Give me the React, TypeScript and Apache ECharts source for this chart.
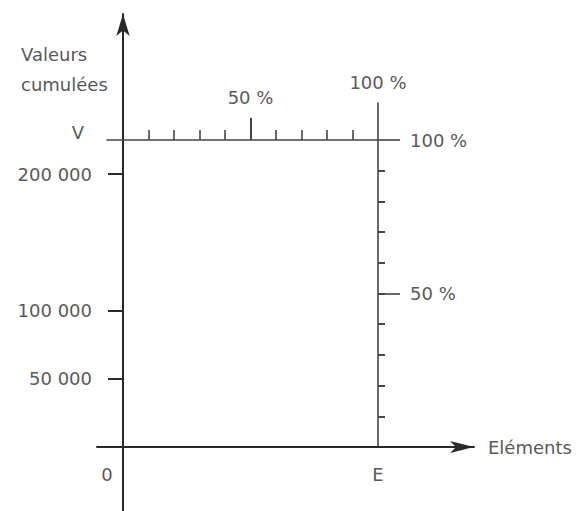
import React, { useEffect, useRef } from "react";
import * as echarts from "echarts";

// ---- Data ----
const leftTickValues = [50000, 100000, 200000];
const leftTickLabels = ["50 000", "100 000", "200 000"];
const totalValue = 225000; // V (estimated)
const totalLabel = "V";
const pctMinorTicks = [10, 20, 30, 40, 50, 60, 70, 80, 90];
const pctMajorTicksTop = [50];
const pctMajorTicksRight = [50, 100];
const bottomLabelValues = [0, 100];
const bottomLabels = ["0", "E"];
const xAxisName = "Eléments";
const yAxisName = "Valeurs\ncumulées";
const topEndName = "100 %";

// ---- Layout (pixels) ----
const W = 576;
const H = 511;
const X0 = 123; // origin x
const XE = 378; // E x
const YB = 447; // baseline y
const YV = 140; // V / 100 % y
const AX_LEFT = 97;
const AX_RIGHT = 474;
const AX_TOP = 14;
const AX_BOTTOM = 511;
const TOP_LINE_LEFT = 107;
const RIGHT_LINE_TOP = 103;

const pxX = (XE - X0) / 100; // px per % of elements
const pxY = (YB - YV) / 100; // px per % of values
const pxV = (YB - YV) / totalValue; // px per value unit

const FONT = "DejaVu Sans";
const TXT = "#5a5a5a";
const DARK = "#2a2a2a";
const MID = "#444";

const pctFmt = (v: number) => `${v} %`;

export default function App() {
  const ref = useRef<HTMLDivElement>(null);
  useEffect(() => {
    if (!ref.current) return;
    const chart = echarts.init(ref.current, undefined, { renderer: "svg" });
    const textStyle = { fontFamily: FONT, fontSize: 18, color: TXT };
    const gridBase = { outerBoundsMode: "none", containLabel: false };
    chart.setOption({
      animation: false,
      backgroundColor: "#ffffff",
      title: {
        text: yAxisName,
        left: 16,
        top: 34,
        textStyle: { ...textStyle, fontWeight: "normal", lineHeight: 30 },
      },
      grid: [
        { ...gridBase, left: AX_LEFT, top: AX_TOP, width: AX_RIGHT - AX_LEFT, height: AX_BOTTOM - AX_TOP },
        { ...gridBase, left: TOP_LINE_LEFT, top: YV, width: XE - TOP_LINE_LEFT, height: YB - YV },
        { ...gridBase, left: X0, top: RIGHT_LINE_TOP, width: XE - X0, height: YB - RIGHT_LINE_TOP },
      ],
      xAxis: [
        {
          gridIndex: 0,
          type: "value",
          min: (AX_LEFT - X0) / pxX,
          max: (AX_RIGHT - X0) / pxX,
          splitLine: { show: false },
          axisLine: {
            onZero: true,
            onZeroAxisIndex: 0,
            symbol: ["none", "arrow"],
            symbolSize: [9, 24],
            lineStyle: { color: DARK, width: 2 },
          },
          axisTick: { show: false },
          axisLabel: { show: false },
          name: xAxisName,
          nameLocation: "end",
          nameGap: 14,
          nameTextStyle: { ...textStyle, verticalAlign: "middle" },
        },
        {
          gridIndex: 1,
          type: "value",
          position: "top",
          min: (TOP_LINE_LEFT - X0) / pxX,
          max: 100,
          splitLine: { show: false },
          axisLine: { onZero: false, lineStyle: { color: MID, width: 1.6 } },
          axisTick: { customValues: pctMinorTicks, length: 10, lineStyle: { color: MID, width: 1.6 } },
          axisLabel: { show: false },
        },
        {
          gridIndex: 1,
          type: "value",
          position: "top",
          min: (TOP_LINE_LEFT - X0) / pxX,
          max: 100,
          splitLine: { show: false },
          axisLine: { show: false, onZero: false },
          axisTick: { customValues: pctMajorTicksTop, length: 22, lineStyle: { color: MID, width: 2 } },
          axisLabel: { customValues: pctMajorTicksTop, margin: 34, formatter: pctFmt, ...textStyle },
        },
        {
          gridIndex: 2,
          type: "value",
          position: "bottom",
          min: 0,
          max: 100,
          splitLine: { show: false },
          axisLine: { show: false, onZero: false },
          axisTick: { show: false },
          axisLabel: {
            customValues: bottomLabelValues,
            margin: 18,
            ...textStyle,
            formatter: (v: number) => {
              const i = bottomLabelValues.indexOf(v);
              const t = i >= 0 ? bottomLabels[i] : "";
              return v === 0 ? `{o|${t}}` : t;
            },
            rich: { o: { ...textStyle, padding: [0, 32, 0, 0] } },
          },
        },
      ],
      yAxis: [
        {
          gridIndex: 0,
          type: "value",
          min: -(AX_BOTTOM - YB) / pxV,
          max: (YB - AX_TOP) / pxV,
          splitLine: { show: false },
          axisLine: {
            onZero: true,
            onZeroAxisIndex: 0,
            symbol: ["none", "arrow"],
            symbolSize: [10, 22],
            lineStyle: { color: DARK, width: 2 },
          },
          axisTick: { customValues: leftTickValues, length: 15, lineStyle: { color: DARK, width: 2 } },
          axisLabel: {
            customValues: [...leftTickValues, totalValue],
            margin: 5,
            ...textStyle,
            formatter: (v: number) => {
              if (v === totalValue) return `{v|${totalLabel}}`;
              const i = leftTickValues.indexOf(v);
              return i >= 0 ? leftTickLabels[i] : "";
            },
            rich: { v: { ...textStyle, padding: [0, 8, 16, 0] } },
          },
        },
        {
          gridIndex: 1,
          type: "value",
          min: 0,
          max: 100,
          show: false,
        },
        {
          gridIndex: 2,
          type: "value",
          position: "right",
          min: 0,
          max: (YB - RIGHT_LINE_TOP) / pxY,
          splitLine: { show: false },
          axisLine: { onZero: false, lineStyle: { color: MID, width: 1.6 } },
          axisTick: { customValues: pctMinorTicks, length: 7, lineStyle: { color: MID, width: 2 } },
          axisLabel: { show: false },
          name: topEndName,
          nameLocation: "end",
          nameGap: 12,
          nameTextStyle: { ...textStyle, align: "center" },
        },
        {
          gridIndex: 2,
          type: "value",
          position: "right",
          min: 0,
          max: (YB - RIGHT_LINE_TOP) / pxY,
          splitLine: { show: false },
          axisLine: { show: false, onZero: false },
          axisTick: { customValues: pctMajorTicksRight, length: 22, lineStyle: { color: MID, width: 1.6 } },
          axisLabel: { customValues: pctMajorTicksRight, margin: 32, formatter: pctFmt, ...textStyle },
        },
      ],
      series: [
        { type: "line", xAxisIndex: 0, yAxisIndex: 0, data: [], silent: true },
      ],
    });
    return () => chart.dispose();
  }, []);
  return (
    <div
      ref={ref}
      style={{ position: "fixed", left: 0, top: 0, width: W, height: H, background: "#fff" }}
    />
  );
}
